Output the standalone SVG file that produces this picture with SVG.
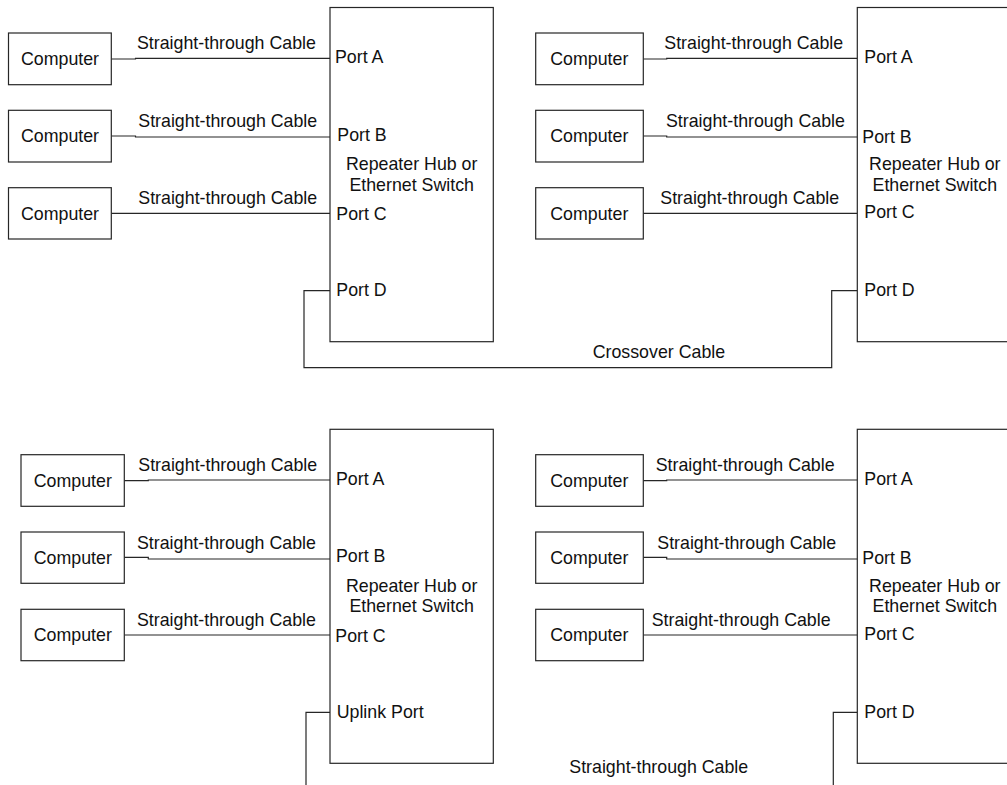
<svg xmlns="http://www.w3.org/2000/svg" width="1007" height="785" viewBox="0 0 1007 785">
<style>
.box{fill:#fff;stroke:#262626;stroke-width:1.2}
.wire{fill:none;stroke:#262626;stroke-width:1.2}
text{font-family:"Liberation Sans",Arial,sans-serif;font-size:17.8px;fill:#111}
.c{text-anchor:middle}
</style>
<rect width="1007" height="785" fill="#fff"/>
<g id="connectors">
<!-- top-left -->
<path class="wire" d="M111.3,59 H135.5 V58.3 H330"/>
<path class="wire" d="M111.3,136 H135.5 V137 H330"/>
<path class="wire" d="M111.3,213.3 H330"/>
<!-- top-right -->
<path class="wire" d="M643.3,59 H666.7 V58.3 H857.3"/>
<path class="wire" d="M643.3,136 H666.7 V137 H857.3"/>
<path class="wire" d="M643.3,213.3 H857.3"/>
<!-- crossover -->
<path class="wire" d="M330,290.7 H304 V367.7 H831.7 V290.7 H857.3"/>
<!-- bottom-left -->
<path class="wire" d="M124.3,480.7 H148.3 V480 H330"/>
<path class="wire" d="M124.3,557.3 H148.3 V559 H330"/>
<path class="wire" d="M124.3,635 H330"/>
<!-- bottom-right -->
<path class="wire" d="M643.3,480.7 H666.7 V480 H857.3"/>
<path class="wire" d="M643.3,557.3 H666.7 V559 H857.3"/>
<path class="wire" d="M643.3,635 H857.3"/>
<!-- uplink / port D lines -->
<path class="wire" d="M330,712.3 H306 V785"/>
<path class="wire" d="M857.3,712.3 H833.3 V785"/>
<text x="137" y="49.3">Straight-through Cable</text>
<text x="138.3" y="127.3">Straight-through Cable</text>
<text x="138.3" y="204.3">Straight-through Cable</text>
<text x="664.3" y="49.3">Straight-through Cable</text>
<text x="666" y="127.3">Straight-through Cable</text>
<text x="660.3" y="204.3">Straight-through Cable</text>
<text x="592.7" y="358.3">Crossover Cable</text>
<text x="138.3" y="470.7">Straight-through Cable</text>
<text x="137" y="549">Straight-through Cable</text>
<text x="137" y="626">Straight-through Cable</text>
<text x="655.7" y="470.7">Straight-through Cable</text>
<text x="657.3" y="549">Straight-through Cable</text>
<text x="651.7" y="626">Straight-through Cable</text>
<text x="569.3" y="772.7">Straight-through Cable</text>
</g>
<!-- top-left -->
<g id="pc-tl-1"><rect class="box" x="8.5" y="33" width="102.8" height="51.7"/><text class="c" x="60" y="65">Computer</text></g>
<g id="pc-tl-2"><rect class="box" x="8.5" y="110.3" width="102.8" height="51.7"/><text class="c" x="60" y="142.3">Computer</text></g>
<g id="pc-tl-3"><rect class="box" x="8.5" y="187.7" width="102.8" height="51.3"/><text class="c" x="60" y="219.5">Computer</text></g>
<g id="hub-tl"><rect class="box" x="330" y="7.5" width="163.3" height="334.2"/>
<text x="335" y="63.3">Port A</text><text x="337.3" y="140.7">Port B</text>
<text class="c" x="411.7" y="170">Repeater Hub or</text><text class="c" x="411.7" y="190.7">Ethernet Switch</text>
<text x="336.3" y="220">Port C</text><text x="336.3" y="296">Port D</text></g>
<!-- top-right -->
<g id="pc-tr-1"><rect class="box" x="535.7" y="33" width="107.6" height="51.7"/><text class="c" x="589.3" y="65">Computer</text></g>
<g id="pc-tr-2"><rect class="box" x="535.7" y="110.3" width="107.6" height="51.7"/><text class="c" x="589.3" y="142.3">Computer</text></g>
<g id="pc-tr-3"><rect class="box" x="535.7" y="187.7" width="107.6" height="51.3"/><text class="c" x="589.3" y="219.5">Computer</text></g>
<g id="hub-tr"><rect class="box" x="857.3" y="7.5" width="200" height="334.2"/>
<text x="864.3" y="63.3">Port A</text><text x="862.3" y="142.7">Port B</text>
<text class="c" x="934.8" y="170">Repeater Hub or</text><text class="c" x="934.8" y="190.7">Ethernet Switch</text>
<text x="864.3" y="218.3">Port C</text><text x="864.3" y="296">Port D</text></g>
<!-- bottom-left -->
<g id="pc-bl-1"><rect class="box" x="21" y="454.7" width="103.3" height="51.6"/><text class="c" x="72.8" y="486.7">Computer</text></g>
<g id="pc-bl-2"><rect class="box" x="21" y="532" width="103.3" height="51.3"/><text class="c" x="72.8" y="563.7">Computer</text></g>
<g id="pc-bl-3"><rect class="box" x="21" y="609.3" width="103.3" height="51.4"/><text class="c" x="72.8" y="641">Computer</text></g>
<g id="hub-bl"><rect class="box" x="330" y="429.3" width="163.3" height="334"/>
<text x="336" y="485">Port A</text><text x="336" y="561.7">Port B</text>
<text class="c" x="411.7" y="591.7">Repeater Hub or</text><text class="c" x="411.7" y="612.3">Ethernet Switch</text>
<text x="335.3" y="641.7">Port C</text><text x="336.7" y="717.7">Uplink Port</text></g>
<!-- bottom-right -->
<g id="pc-br-1"><rect class="box" x="535.7" y="454.7" width="107.6" height="51.6"/><text class="c" x="589.3" y="486.7">Computer</text></g>
<g id="pc-br-2"><rect class="box" x="535.7" y="532" width="107.6" height="51.3"/><text class="c" x="589.3" y="563.7">Computer</text></g>
<g id="pc-br-3"><rect class="box" x="535.7" y="609.3" width="107.6" height="51.4"/><text class="c" x="589.3" y="641">Computer</text></g>
<g id="hub-br"><rect class="box" x="857.3" y="429.3" width="200" height="334"/>
<text x="864.3" y="485">Port A</text><text x="862.3" y="564.3">Port B</text>
<text class="c" x="934.8" y="591.7">Repeater Hub or</text><text class="c" x="934.8" y="612.3">Ethernet Switch</text>
<text x="864.3" y="640">Port C</text><text x="864.3" y="717.7">Port D</text></g>
</svg>
